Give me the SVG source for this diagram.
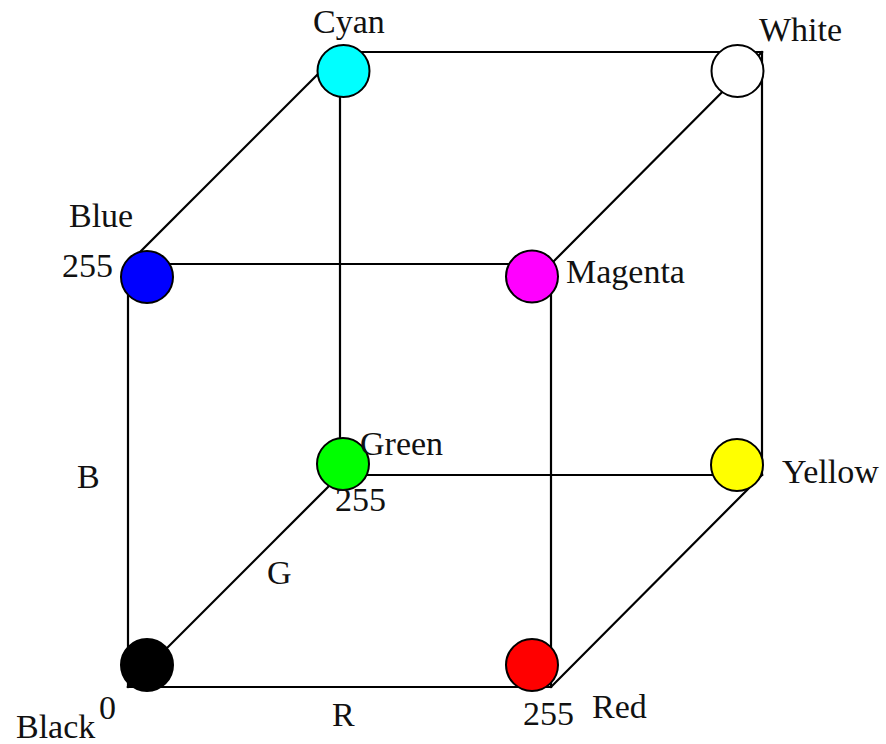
<svg xmlns="http://www.w3.org/2000/svg" width="886" height="744" viewBox="0 0 886 744">
<style>
.e{stroke:#000;stroke-width:2.2;fill:none;stroke-linecap:square}
.n{stroke:#000;stroke-width:2}
text{font-family:"Liberation Serif","Times New Roman",serif;font-size:34px;fill:#111}
</style>
<rect width="886" height="744" fill="#fff"/>
<g id="connectors" class="e">
<line x1="128" y1="264" x2="551" y2="264"/>
<line x1="128" y1="687" x2="551" y2="687"/>
<line x1="128" y1="264" x2="128" y2="687"/>
<line x1="551" y1="264" x2="551" y2="687"/>
<line x1="340" y1="52" x2="762" y2="52"/>
<line x1="340" y1="475" x2="762" y2="475"/>
<line x1="340" y1="52" x2="340" y2="475"/>
<line x1="762" y1="52" x2="762" y2="475"/>
<line x1="128" y1="264" x2="340" y2="52"/>
<line x1="551" y1="264" x2="762" y2="52"/>
<line x1="128" y1="687" x2="340" y2="475"/>
<line x1="551" y1="687" x2="762" y2="475"/>
</g>
<g id="black"><circle class="n" cx="147" cy="665" r="26" fill="#000"/><text x="16" y="738">Black</text><text x="99" y="719">0</text></g>
<g id="red"><circle class="n" cx="532" cy="665" r="26" fill="#f00"/><text x="523" y="725">255</text><text x="592" y="718">Red</text></g>
<g id="blue"><circle class="n" cx="147" cy="277" r="26" fill="#00f"/><text x="69" y="227">Blue</text><text x="62" y="277">255</text></g>
<g id="magenta"><circle class="n" cx="532" cy="276.5" r="26" fill="#f0f"/><text x="566" y="283">Magenta</text></g>
<g id="green"><circle class="n" cx="343" cy="464" r="26" fill="#0f0"/><text x="360" y="455">Green</text><text x="335" y="511">255</text></g>
<g id="yellow"><circle class="n" cx="737" cy="465" r="26" fill="#ff0"/><text x="782" y="483">Yellow</text></g>
<g id="cyan"><circle class="n" cx="343.5" cy="71" r="26" fill="#0ff"/><text x="313" y="33">Cyan</text></g>
<g id="white"><circle class="n" cx="737.5" cy="71" r="26" fill="#fff"/><text x="759" y="41">White</text></g>
<g id="axes"><text x="77" y="488">B</text><text x="267" y="584">G</text><text x="332" y="726">R</text></g>
</svg>
